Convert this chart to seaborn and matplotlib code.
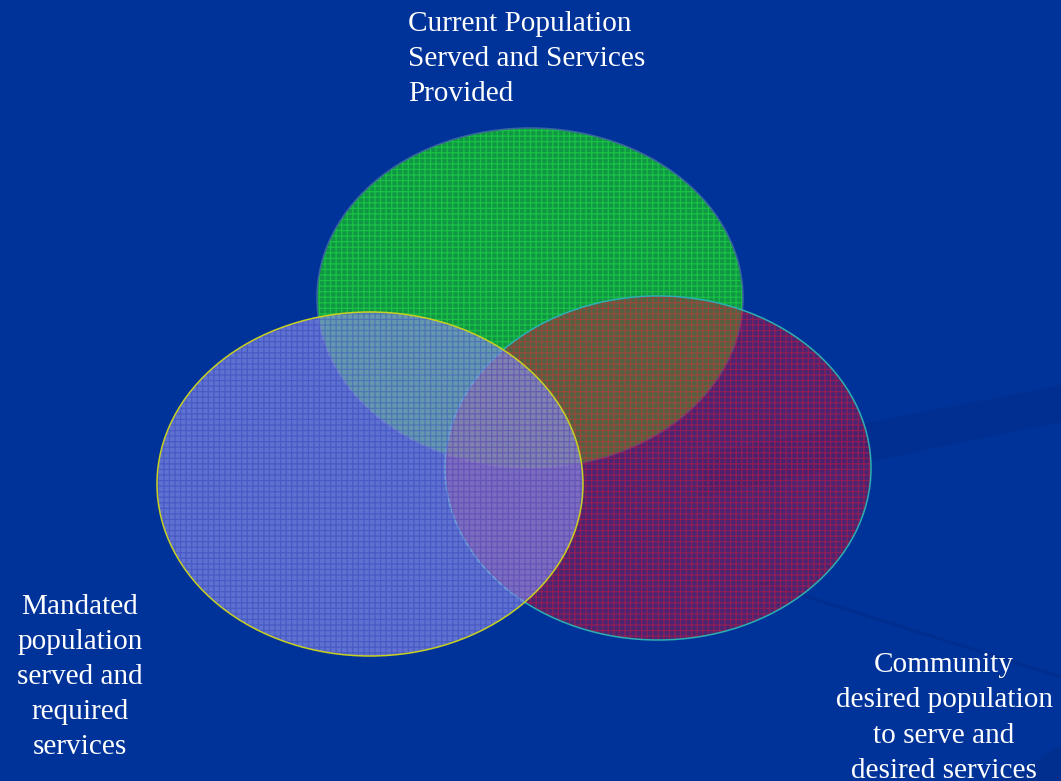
import matplotlib
matplotlib.use("Agg")
import matplotlib.pyplot as plt
from matplotlib.patches import Ellipse, Polygon
import seaborn as sns

# Three overlapping sets
set_labels = [
    "Current Population\nServed and Services\nProvided",
    "Community\ndesired population\nto serve and\ndesired services",
    "Mandated\npopulation\nserved and\nrequired\nservices",
]
centers_x = [530, 658, 370]
centers_y = [298, 468, 484]
widths = [426, 426, 426]
heights = [340, 344, 344]
fill_colors = ["#12a23c", "#b8103c", "#9a98f2"]
fill_alpha = [0.9, 0.4, 0.62]
grid_colors = ["#22ee44", "#d8163a", "#3344bb"]
edge_colors = ["#3a66a0", "#2ab0b0", "#c8d020"]

BG = "#003399"

sns.set_theme(style="white", rc={"axes.facecolor": BG, "figure.facecolor": BG})
plt.rcParams["font.family"] = ["Liberation Serif", "DejaVu Serif"]
plt.rcParams["hatch.linewidth"] = 0.9

fig = plt.figure(figsize=(10.61, 7.81), dpi=100)
ax = fig.add_axes([0, 0, 1, 1])
ax.set_xlim(0, 1061)
ax.set_ylim(781, 0)
ax.set_axis_off()

# faint background swooshes
ax.add_patch(Polygon([[700, 455], [1061, 385], [1061, 422], [700, 497]],
                     closed=True, facecolor="#002c88", edgecolor="none", alpha=0.45, zorder=0))
ax.plot([760, 1061], [582, 677], color="#002c88", linewidth=2.5, alpha=0.6, zorder=0,
        solid_capstyle="butt")
ax.add_patch(Polygon([[1000, 781], [1061, 745], [1061, 781]],
                     closed=True, facecolor="#002c88", edgecolor="none", alpha=0.5, zorder=0))

for i in range(3):
    xy = (centers_x[i], centers_y[i])
    ax.add_patch(Ellipse(xy, widths[i], heights[i], facecolor=fill_colors[i],
                         alpha=fill_alpha[i], edgecolor="none", zorder=2 + i))
    ax.add_patch(Ellipse(xy, widths[i], heights[i], facecolor="none",
                         edgecolor=grid_colors[i] + "80", hatch="+++",
                         linewidth=0, zorder=2 + i))
    ax.add_patch(Ellipse(xy, widths[i], heights[i], facecolor="none",
                         edgecolor=edge_colors[i], linewidth=1.1, zorder=2 + i))

txt = dict(color="white", fontsize=21.1, linespacing=1.46, zorder=10)
ax.text(408, 59, set_labels[0], ha="left", va="center", **txt)
ax.text(944, 718, set_labels[1], ha="center", va="center", multialignment="center", **txt)
ax.text(80, 677, set_labels[2], ha="center", va="center", multialignment="center", **txt)

fig.savefig("out.png", dpi=100, facecolor=BG)
